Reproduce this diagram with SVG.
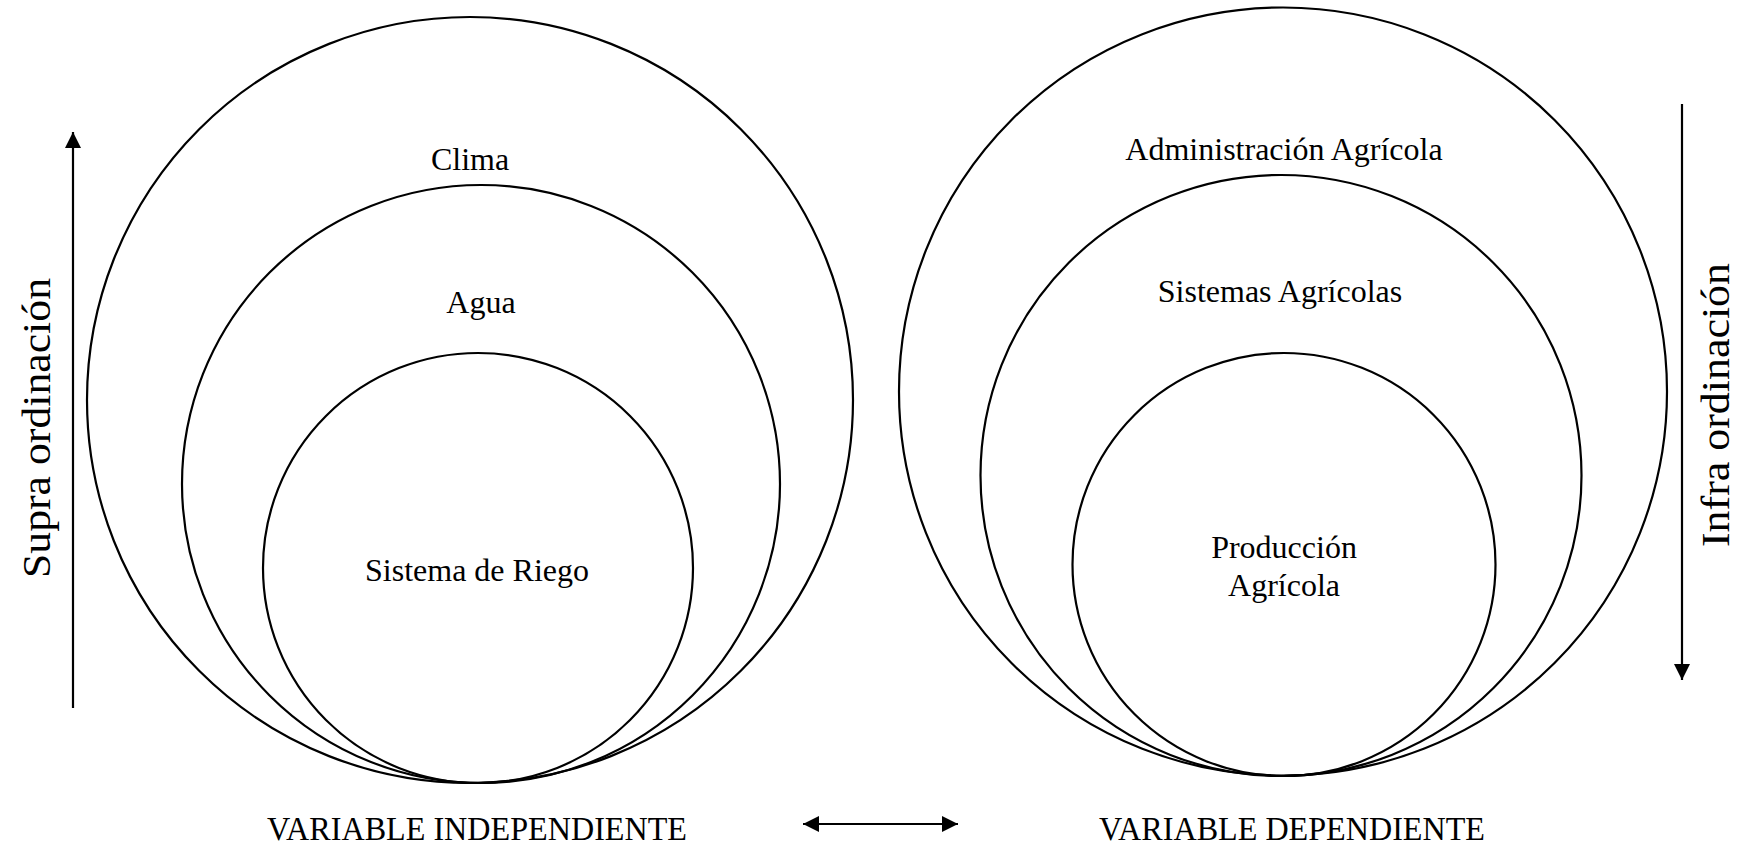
<svg xmlns="http://www.w3.org/2000/svg" width="1742" height="848" viewBox="0 0 1742 848">
<style>
.c{fill:none;stroke:#000;stroke-width:2.2}
.t{font-family:"Liberation Serif","Times New Roman",serif;font-size:32px;fill:#000;text-anchor:middle}
.v{font-family:"Liberation Serif","Times New Roman",serif;font-size:34px;fill:#000;text-anchor:middle}
.s{font-family:"Liberation Serif","Times New Roman",serif;font-size:40px;fill:#000;text-anchor:middle}
.a{fill:none;stroke:#000;stroke-width:2.2}
</style>
<defs>
<marker id="ah" viewBox="0 0 10 10" refX="10" refY="5" markerWidth="16" markerHeight="16" markerUnits="userSpaceOnUse" orient="auto-start-reverse">
<path d="M0,0 L10,5 L0,10 Z" fill="#000"/>
</marker>
</defs>
<g id="left-outer"><circle class="c" cx="470" cy="400" r="383"/><text class="t" x="470" y="170">Clima</text></g>
<g id="left-middle"><circle class="c" cx="481" cy="484" r="299"/><text class="t" x="481" y="313">Agua</text></g>
<g id="left-inner"><circle class="c" cx="478" cy="568" r="215"/><text class="t" x="477" y="581">Sistema de Riego</text></g>
<g id="right-outer"><circle class="c" cx="1283" cy="391.5" r="384"/><text class="t" x="1284" y="160">Administración Agrícola</text></g>
<g id="right-middle"><circle class="c" cx="1281" cy="475.5" r="300.5"/><text class="t" x="1280" y="302">Sistemas Agrícolas</text></g>
<g id="right-inner"><circle class="c" cx="1284" cy="564.5" r="211.5"/><text class="t" x="1284" y="558">Producción</text><text class="t" x="1284" y="596">Agrícola</text></g>
<g id="label-supra"><text class="s" transform="translate(50,428) rotate(-90)" textLength="300" lengthAdjust="spacingAndGlyphs">Supra ordinación</text></g>
<g id="label-infra"><text class="s" transform="translate(1729,405) rotate(-90)" textLength="284" lengthAdjust="spacingAndGlyphs">Infra ordinación</text></g>
<g id="label-vi"><text class="v" x="477" y="840" textLength="420" lengthAdjust="spacingAndGlyphs">VARIABLE INDEPENDIENTE</text></g>
<g id="label-vd"><text class="v" x="1292" y="840" textLength="386" lengthAdjust="spacingAndGlyphs">VARIABLE DEPENDIENTE</text></g>
<g id="connectors">
<line class="a" x1="73" y1="708" x2="73" y2="132" marker-end="url(#ah)"/>
<line class="a" x1="1682" y1="104" x2="1682" y2="680" marker-end="url(#ah)"/>
<line class="a" x1="803" y1="824" x2="958" y2="824" marker-start="url(#ah)" marker-end="url(#ah)"/>
</g>
</svg>
